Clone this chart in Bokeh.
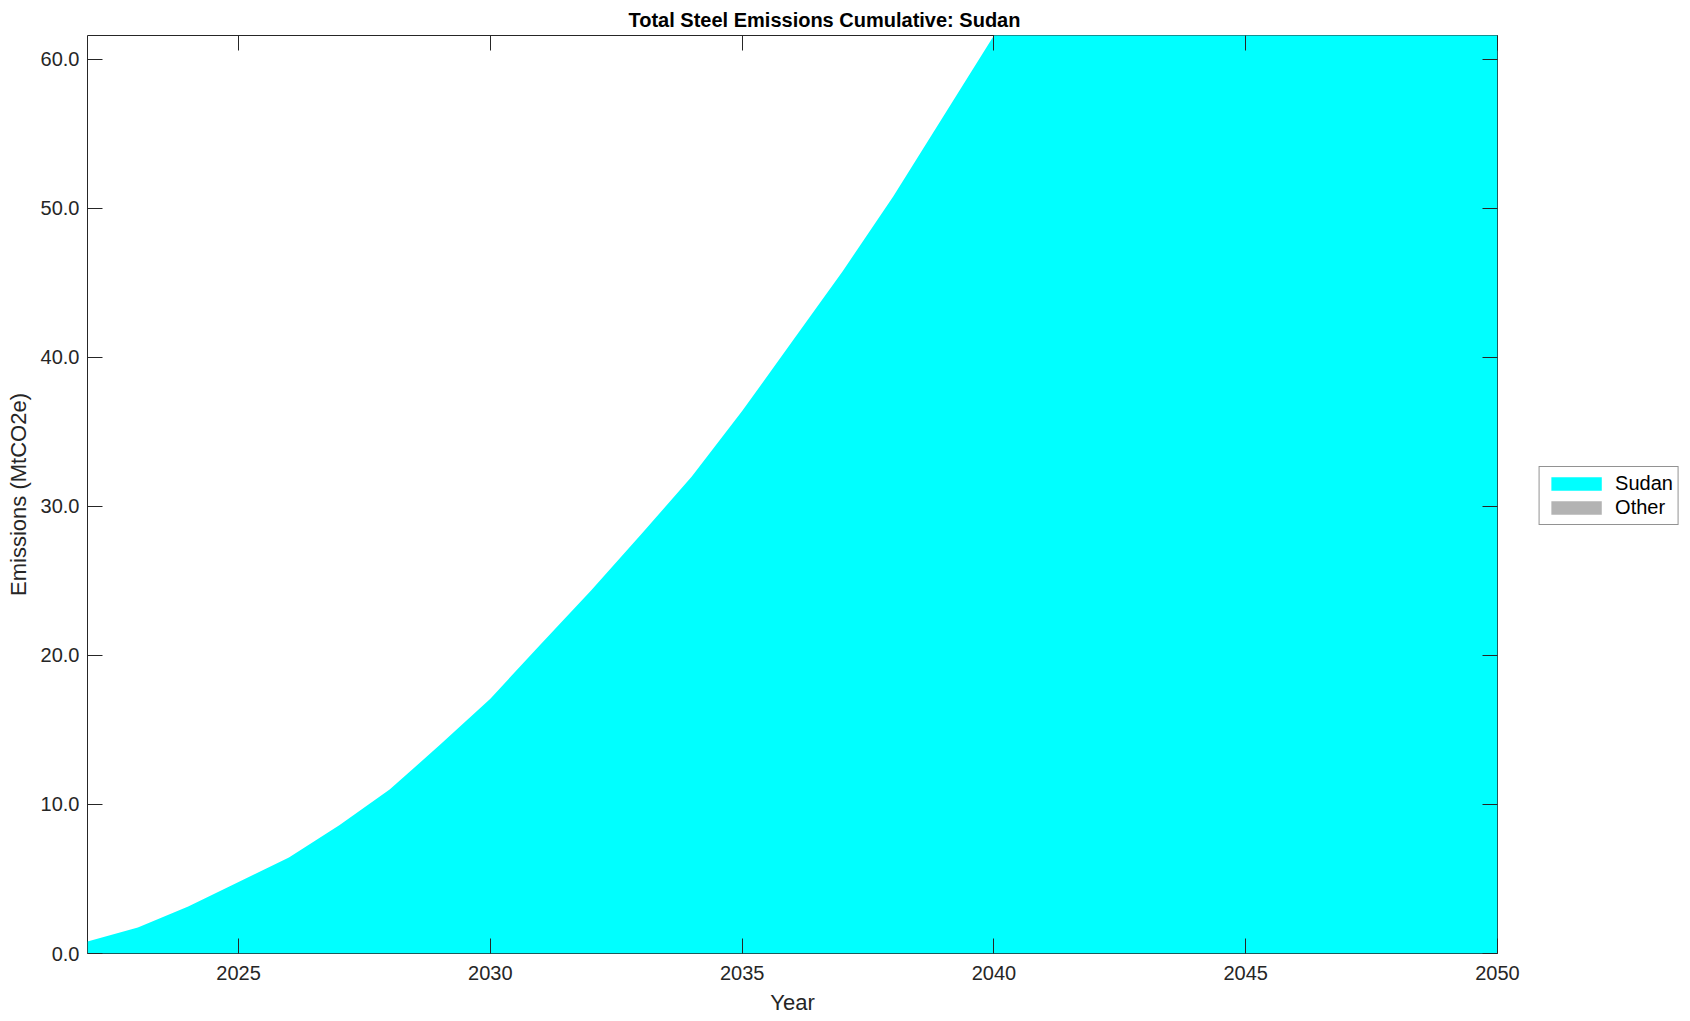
from bokeh.plotting import figure
from bokeh.layouts import row
from bokeh.models import (Range1d, LinearAxis, FixedTicker, NumeralTickFormatter,
                          ColumnDataSource, Legend, LegendItem)
from bokeh.embed import file_html
from bokeh.resources import INLINE

# ---- data ----
years = list(range(2022, 2051))
sudan = [0.8, 1.75, 3.15, 4.8, 6.45, 8.6, 11.0, 14.0, 17.1, 20.75,
         24.35, 28.15, 32.0, 36.4, 41.1, 45.8, 50.8, 56.2, 61.6,
         67.3, 73.2, 79.3, 85.6, 92.1, 98.8, 105.7, 112.8, 120.1, 127.6]
other = [0.0] * len(years)
series_names = ["Sudan", "Other"]
series_colors = ["#00ffff", "#b3b3b3"]
x_ticks = [2025, 2030, 2035, 2040, 2045, 2050]
y_ticks = [0, 10, 20, 30, 40, 50, 60]
x_limits = (2022, 2050)
y_limits = (0, 61.6)

title_text = "Total Steel Emissions Cumulative: Sudan"
x_label = "Year"
y_label = "Emissions (MtCO2e)"

FONT = "Liberation Sans"
AX_COLOR = "#262626"

src = ColumnDataSource(dict(year=years, sudan=sudan, other=other))

p = figure(width=1530, height=1021,
           x_range=Range1d(*x_limits), y_range=Range1d(*y_limits),
           output_backend="svg", toolbar_location=None,
           title=title_text,
           min_border_left=87, min_border_right=33,
           min_border_top=35, min_border_bottom=68)

p.background_fill_color = "white"
p.border_fill_color = "white"
p.outline_line_color = AX_COLOR
p.outline_line_width = 1
p.xgrid.visible = False
p.ygrid.visible = False

p.varea_stack(["sudan", "other"], x="year", color=series_colors, source=src)

# title
p.title.text_font = FONT
p.title.text_font_size = "20px"
p.title.text_font_style = "bold"
p.title.text_color = "black"
p.title.align = "left"
p.title.offset = 541
p.title.standoff = 9

def style_axis(ax, ticks, show_labels):
    ax.ticker = FixedTicker(ticks=ticks)
    ax.axis_line_color = None
    ax.major_tick_in = 15
    ax.major_tick_out = 0
    ax.major_tick_line_color = AX_COLOR
    ax.major_tick_line_width = 1
    ax.minor_tick_line_color = None
    if show_labels:
        ax.major_label_text_font = FONT
        ax.major_label_text_font_size = "20px"
        ax.major_label_text_color = AX_COLOR
        ax.axis_label_text_font = FONT
        ax.axis_label_text_font_size = "22px"
        ax.axis_label_text_font_style = "normal"
        ax.axis_label_text_color = AX_COLOR
    else:
        ax.major_label_text_font_size = "0px"
        ax.major_label_standoff = 0
        ax.major_label_text_color = None

xax = p.xaxis[0]
style_axis(xax, x_ticks, True)
xax.axis_label = x_label
xax.major_label_standoff = 12
xax.axis_label_standoff = 7

yax = p.yaxis[0]
style_axis(yax, y_ticks, True)
yax.formatter = NumeralTickFormatter(format="0.0")
yax.axis_label = y_label
yax.major_label_standoff = 8
yax.axis_label_standoff = 7

top = LinearAxis()
style_axis(top, x_ticks, False)
p.add_layout(top, "above")
right = LinearAxis()
style_axis(right, y_ticks, False)
p.add_layout(right, "right")

# ---- legend panel, to the right of the axes ----
# the key panel's ranges exclude the data, so only the legend shows there
pl = figure(width=157, height=989, output_backend="svg", toolbar_location=None,
            x_axis_location=None, y_axis_location=None,
            x_range=Range1d(0, 1), y_range=Range1d(0, 1),
            min_border=0)
pl.outline_line_color = None
pl.grid.visible = False
pl.background_fill_color = "white"
pl.border_fill_color = "white"
key_renderers = pl.varea_stack(["sudan", "other"], x="year",
                               color=series_colors, source=src)
items = [LegendItem(label=name, renderers=[r])
         for name, r in zip(series_names, key_renderers)]
lg = Legend(items=items, location="top")
lg.border_line_color = AX_COLOR
lg.border_line_width = 1
lg.background_fill_color = "white"
lg.background_fill_alpha = 1
lg.label_text_font = FONT
lg.label_text_font_size = "20px"
lg.label_text_color = "black"
lg.glyph_width = 63
lg.glyph_height = 17
lg.label_height = 17
lg.label_standoff = 8
lg.padding = 5
lg.spacing = 1
lg.margin = 431
lg.click_policy = "none"
pl.add_layout(lg, "center")

layout = row(p, pl, spacing=0)
open("out.html", "w").write(file_html(layout, INLINE))
